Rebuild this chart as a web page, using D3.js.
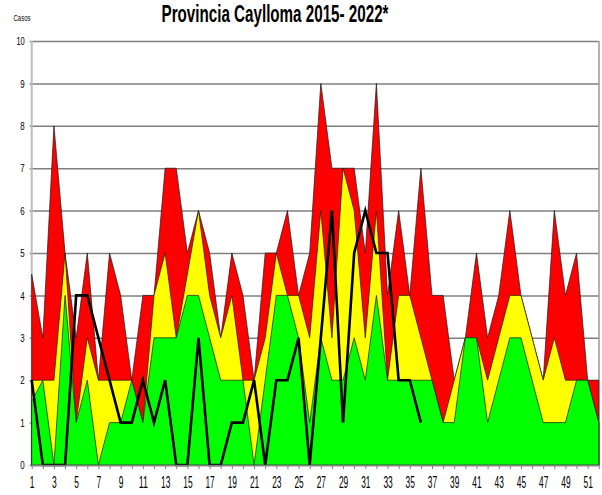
<!DOCTYPE html>
<html><head><meta charset="utf-8">
<script src="https://cdn.jsdelivr.net/npm/d3@7"></script>
<style>body{margin:0;background:#fff}svg{display:block}</style>
</head><body>
<svg id="c" width="602" height="495"></svg>
<script>
// Epidemiological weeks
const weeks = [1,2,3,4,5,6,7,8,9,10,11,12,13,14,15,16,17,18,19,20,21,22,23,24,25,26,
  27,28,29,30,31,32,33,34,35,36,37,38,39,40,41,42,43,44,45,46,47,48,49,50,51,52];
const labeledWeeks = [1,3,5,7,9,11,13,15,17,19,21,23,25,27,29,31,33,35,37,39,41,43,45,47,49,51];
const yTicks = [0,1,2,3,4,5,6,7,8,9,10];

// Red zone (upper limit)
const redZone = [4.5,3,8,5,3,5,2,5,4,2,4,4,7,7,5,6,5,3,5,4,2,5,5,6,4,5,
  9,7,7,7,5,9,4,6,4,7,4,4,2,3,5,3,4,6,4,3,2,6,4,5,2,2];
// Yellow zone (median)
const yellowZone = [2,2,2,5,1,3,2,2,2,2,1,4,5,3,4.5,6,4,3,4,2,2,3,5,4,4,3,
  6,3,7,6,3,6,2,4,4,3,2,1,2,3,3,2,3,4,4,3,2,3,2,2,2,1];
// Green zone (lower limit)
const greenZone = [1.5,2,0,4,1,2,0,1,1,2,1,3,3,3,4,4,3,2,2,2,0,2,4,4,3,1,
  3,2,2,3,2,4,2,2,2,2,2,1,1,3,3,1,2,3,3,2,1,1,1,2,2,1];
// Current year cases (weeks 1-36)
const currentCases = [2,0,0,0,4,4,3,2,1,1,2,1,2,0,0,3,0,0,1,1,2,0,2,2,3,0,
  3,6,1,5,6,5,5,2,2,1];

const svg = d3.select('#c');
const x = d3.scaleLinear().domain([1,52]).range([31.7,598.8]);
const y = d3.scaleLinear().domain([0,10]).range([465,41]);
const FONT = "'Liberation Sans', Arial, sans-serif";

// grid + y axis
const yAxis = d3.axisLeft(y).tickValues(yTicks).tickSize(-(598.8-31.7)).tickSizeOuter(0)
  .tickPadding(7).tickFormat(d3.format('d'));
const gy = svg.append('g').attr('transform','translate(31.7,0)').call(yAxis);
gy.select('.domain').remove();
gy.selectAll('.tick line').attr('stroke','#808080').attr('stroke-width',1.5).attr('x1',-2);
gy.selectAll('.tick text').attr('fill','#000').style('font-family',FONT).style('font-size','11.6px')
  .attr('textLength',d => d>=10 ? 8.3 : 4.4).attr('lengthAdjust','spacingAndGlyphs');

// left axis line and right border
svg.append('line').attr('x1',31.7).attr('x2',31.7).attr('y1',y(10)).attr('y2',y(0))
  .attr('stroke','#bdbdbd').attr('stroke-width',2);
svg.append('line').attr('x1',599).attr('x2',599).attr('y1',y(10)).attr('y2',y(0))
  .attr('stroke','#9a9a9a').attr('stroke-width',1.5);

// areas
const areaGen = d3.area().x((d,i)=>x(weeks[i])).y0(y(0)).y1(d=>y(d));
[[redZone,'#ff0000'],[yellowZone,'#ffff00'],[greenZone,'#00ff00']].forEach(([arr,col])=>{
  svg.append('path').datum(arr).attr('d',areaGen).attr('fill',col)
    .attr('stroke','#1a1a1a').attr('stroke-width',0.7);
});

// current year line
svg.append('path').datum(currentCases)
  .attr('d',d3.line().x((d,i)=>x(weeks[i])).y(d=>y(d)))
  .attr('fill','none').attr('stroke','#000').attr('stroke-width',2.6);

// x axis
const xAxis = d3.axisBottom(x).tickValues(weeks).tickSize(4).tickSizeOuter(0).tickPadding(8)
  .tickFormat(d => labeledWeeks.includes(d) ? String(d) : '');
const gx = svg.append('g').attr('transform',`translate(0,${y(0)})`).call(xAxis);
gx.select('.domain').attr('stroke','#808080').attr('stroke-width',1.5);
gx.selectAll('.tick line').attr('stroke','#808080');
gx.selectAll('.tick text').attr('fill','#000').style('font-family',FONT).style('font-size','16px')
  .each(function(d){ if(labeledWeeks.includes(d)){ d3.select(this)
    .attr('textLength', d>=10 ? 9.3 : 4.7).attr('lengthAdjust','spacingAndGlyphs'); } });

// titles
svg.append('text').attr('x',275).attr('y',22).attr('text-anchor','middle')
  .style('font-family',FONT).style('font-weight','bold').style('font-size','24px')
  .attr('textLength',227).attr('lengthAdjust','spacingAndGlyphs')
  .text('Provincia Caylloma 2015- 2022*');
svg.append('text').attr('x',13.5).attr('y',20.5)
  .style('font-family',FONT).style('font-size','9px')
  .attr('textLength',17).attr('lengthAdjust','spacingAndGlyphs')
  .text('Casos');
</script>
</body></html>
